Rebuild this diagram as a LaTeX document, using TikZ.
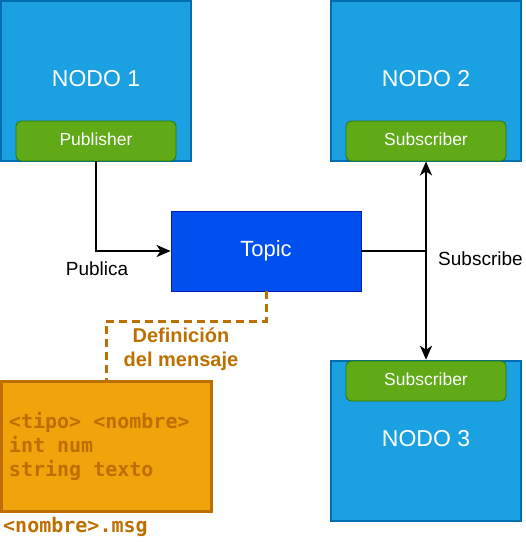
\documentclass[tikz,border=0pt]{standalone}
\usepackage{fontspec}
\setmainfont{Liberation Sans}
\newfontfamily\monob{DejaVu Sans Mono}
\newcommand\msp{\hphantom{x}}
\usetikzlibrary{arrows.meta}
\definecolor{nodofill}{HTML}{1BA1E2}
\definecolor{nodoline}{HTML}{006EAF}
\definecolor{grfill}{HTML}{60A917}
\definecolor{grline}{HTML}{2D7600}
\definecolor{tpfill}{HTML}{0050EF}
\definecolor{tpline}{HTML}{001DBC}
\definecolor{orfill}{HTML}{F0A30A}
\definecolor{orline}{HTML}{BD7000}
\begin{document}
\begin{tikzpicture}[x=1pt,y=-1pt,
  nodo/.style={draw=nodoline,fill=nodofill,line width=2.5pt,minimum width=190pt,minimum height=160pt,inner sep=0pt,text=white,font=\fontsize{23}{27}\selectfont,text depth=6pt},
  role/.style={draw=grline,fill=grfill,line width=0.8pt,rounded corners=5pt,minimum width=160pt,minimum height=40pt,inner sep=0pt,text=white,font=\fontsize{17.5}{20}\selectfont,text depth=3pt},
  topicbox/.style={draw=tpline,fill=tpfill,line width=0.8pt,minimum width=190pt,minimum height=80pt,inner sep=0pt,text=white,font=\fontsize{22}{26}\selectfont},
  msgbox/.style={draw=orline,fill=orfill,line width=3pt,minimum width=210pt,minimum height=130pt,inner xsep=8pt,inner ysep=0pt,text width=194pt,align=left,text=orline,font=\monob\bfseries\fontsize{20}{24}\selectfont},
  conn/.style={line width=2.4pt,line join=miter},
  tip/.style={-{Stealth[length=14pt,width=12pt,inset=4pt]}},
  lbl/.style={font=\fontsize{19}{23}\selectfont,inner sep=0pt},
  dash line/.style={draw=orline,line width=3pt,dash pattern=on 8pt off 5pt}
]
\useasboundingbox (0,0) rectangle (526,542);
\node[nodo] (n1) at (96,81) {NODO 1};
\node[role] (pub) at (96,141) {Publisher};
\node[nodo] (n2) at (426,81) {NODO 2};
\node[role] (sub2) at (426,141) {Subscriber};
\node[nodo] (n3) at (426,441) {NODO 3};
\node[role] (sub3) at (426,381) {Subscriber};
\node[topicbox] (topic) at (266,251) {Topic};
\node[msgbox] (msg) at (106,446) {<tipo>\msp<nombre>\\int\msp num\\string\msp texto};
\node[anchor=west,inner sep=0pt,text=orline,font=\monob\bfseries\fontsize{20}{24}\selectfont] (fname) at (3,527) {<nombre>.msg};
\node[lbl] (publica) at (97,269) {Publica};
\node[lbl,anchor=west] (subscribe) at (438,259) {Subscribe};
\node[align=center,text=orline,font=\bfseries\fontsize{20}{24}\selectfont,inner sep=0pt] (def) at (181,349) {Definición\\del mensaje};
\coordinate (j) at (426,251);
\draw[conn,tip] (pub.south) |- (topic.west);
\draw[conn] (topic.east) -- (j);
\draw[conn,tip] (j) -- (sub2.south);
\draw[conn,tip] (j) -- (n3.north);
\draw[dash line] (topic.south) -- ++(0,30) -| (msg.north);
\end{tikzpicture}
\end{document}
